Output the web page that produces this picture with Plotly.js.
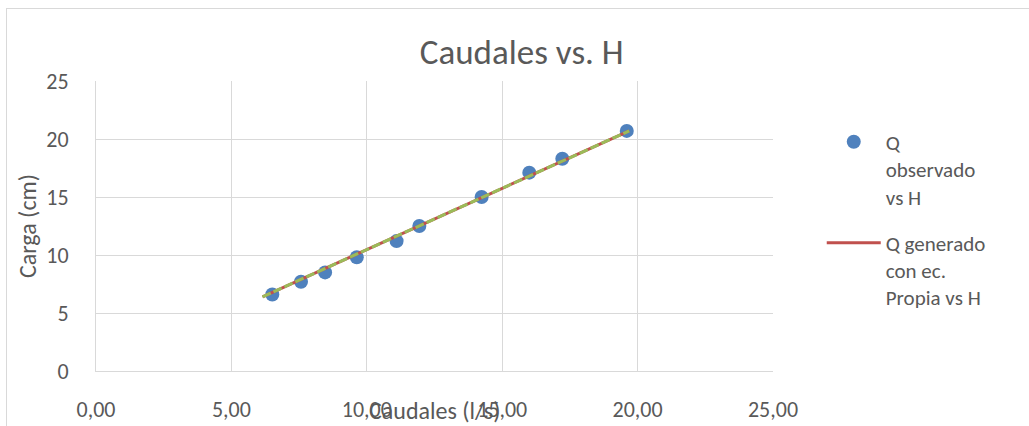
<!DOCTYPE html>
<html>
<head>
<meta charset="utf-8">
<script src="https://cdn.plot.ly/plotly-3.0.1.min.js"></script>
<style>
  html, body { margin: 0; padding: 0; background: #ffffff; overflow: hidden; }
  #frame { position: absolute; left: 6px; top: 8px; width: 1100px; height: 500px; border: 1.5px solid #d9d9d9; }
  #chart { position: absolute; left: 0; top: 0; width: 1029px; height: 426px; }
</style>
</head>
<body>
<div id="frame"></div>
<div id="chart"></div>
<script>
// Observed data: Q (l/s) vs H (cm)
const qObservado = [6.51, 7.57, 8.46, 9.63, 11.10, 11.94, 14.24, 16.00, 17.22, 19.60];
const hObservado = [6.6, 7.7, 8.5, 9.8, 11.2, 12.5, 15.0, 17.1, 18.3, 20.7];

// Q generated with own equation vs H
const hGenerado = [6.4, 7.7, 8.5, 9.8, 11.2, 12.5, 15.0, 17.0, 18.2, 20.7];
const qGenerado = [6.15, 7.38, 8.14, 9.37, 10.70, 11.93, 14.30, 16.19, 17.33, 19.69];

const xTicks = [0, 5, 10, 15, 20, 25];
const yTicks = [0, 5, 10, 15, 20, 25];

const nameObs = "Q<br>observado<br>vs H";
const nameGen = "Q generado<br>con ec.<br>Propia vs H";
const titleText = "Caudales vs. H";
const xTitle = "Caudales (l/s)";
const yTitle = "Carga (cm)";

const FONT = "Calibri, Carlito, Lato, 'Liberation Sans', sans-serif";
const TXT = "#595959";
const GRID = "#d9d9d9";

const traces = [
  {
    x: qObservado, y: hObservado, name: nameObs, legendgroup: "obs",
    type: "scatter", mode: "markers",
    marker: { color: "#4f81bd", size: 14 },
    cliponaxis: false
  },
  {
    x: qGenerado, y: hGenerado, name: nameGen, legendgroup: "gen",
    type: "scatter", mode: "lines",
    line: { color: "#c0504d", width: 3 }
  },
  {
    x: qGenerado, y: hGenerado, name: "Lineal", legendgroup: "gen",
    type: "scatter", mode: "lines", showlegend: false,
    line: { color: "#9bbb59", width: 3, dash: "9px,3px" }
  }
];

const layout = {
  width: 1029, height: 426,
  margin: { l: 96, r: 256, t: 81, b: 55 },
  paper_bgcolor: "rgba(0,0,0,0)",
  plot_bgcolor: "#ffffff",
  separators: ",.",
  font: { family: FONT, color: TXT, size: 22 },
  title: {
    text: titleText, x: 0.507, xanchor: "center",
    y: 0.878, yanchor: "middle", xref: "container", yref: "container",
    font: { family: FONT, size: 35, color: TXT }
  },
  xaxis: {
    range: [0, 25], tickvals: xTicks, tickformat: ".2f",
    showgrid: true, gridcolor: GRID, gridwidth: 1,
    zeroline: false, showline: true, linecolor: GRID, linewidth: 1,
    ticks: "", ticklabelstandoff: 19,
    tickfont: { family: FONT, size: 22, color: TXT },
    fixedrange: true
  },
  yaxis: {
    range: [0, 25], tickvals: yTicks,
    showgrid: true, gridcolor: GRID, gridwidth: 1,
    zeroline: false, showline: true, linecolor: GRID, linewidth: 1,
    ticks: "", ticklabelstandoff: 22,
    tickfont: { family: FONT, size: 22, color: TXT },
    title: { text: yTitle, standoff: 2, font: { family: FONT, size: 24, color: TXT } },
    fixedrange: true
  },
  showlegend: true,
  legend: {
    x: 1.072, xanchor: "left", y: 0.86, yanchor: "top",
    valign: "top", bgcolor: "rgba(0,0,0,0)",
    font: { family: FONT, size: 21, color: TXT },
    tracegroupgap: 16, itemwidth: 54
  },
  annotations: [
    {
      text: xTitle, xref: "paper", yref: "paper",
      x: 0.5, y: -0.137, xanchor: "center", yanchor: "middle",
      showarrow: false, font: { family: FONT, size: 24, color: TXT }
    }
  ]
};

Plotly.newPlot("chart", traces, layout, { displayModeBar: false, staticPlot: true });
</script>
</body>
</html>
